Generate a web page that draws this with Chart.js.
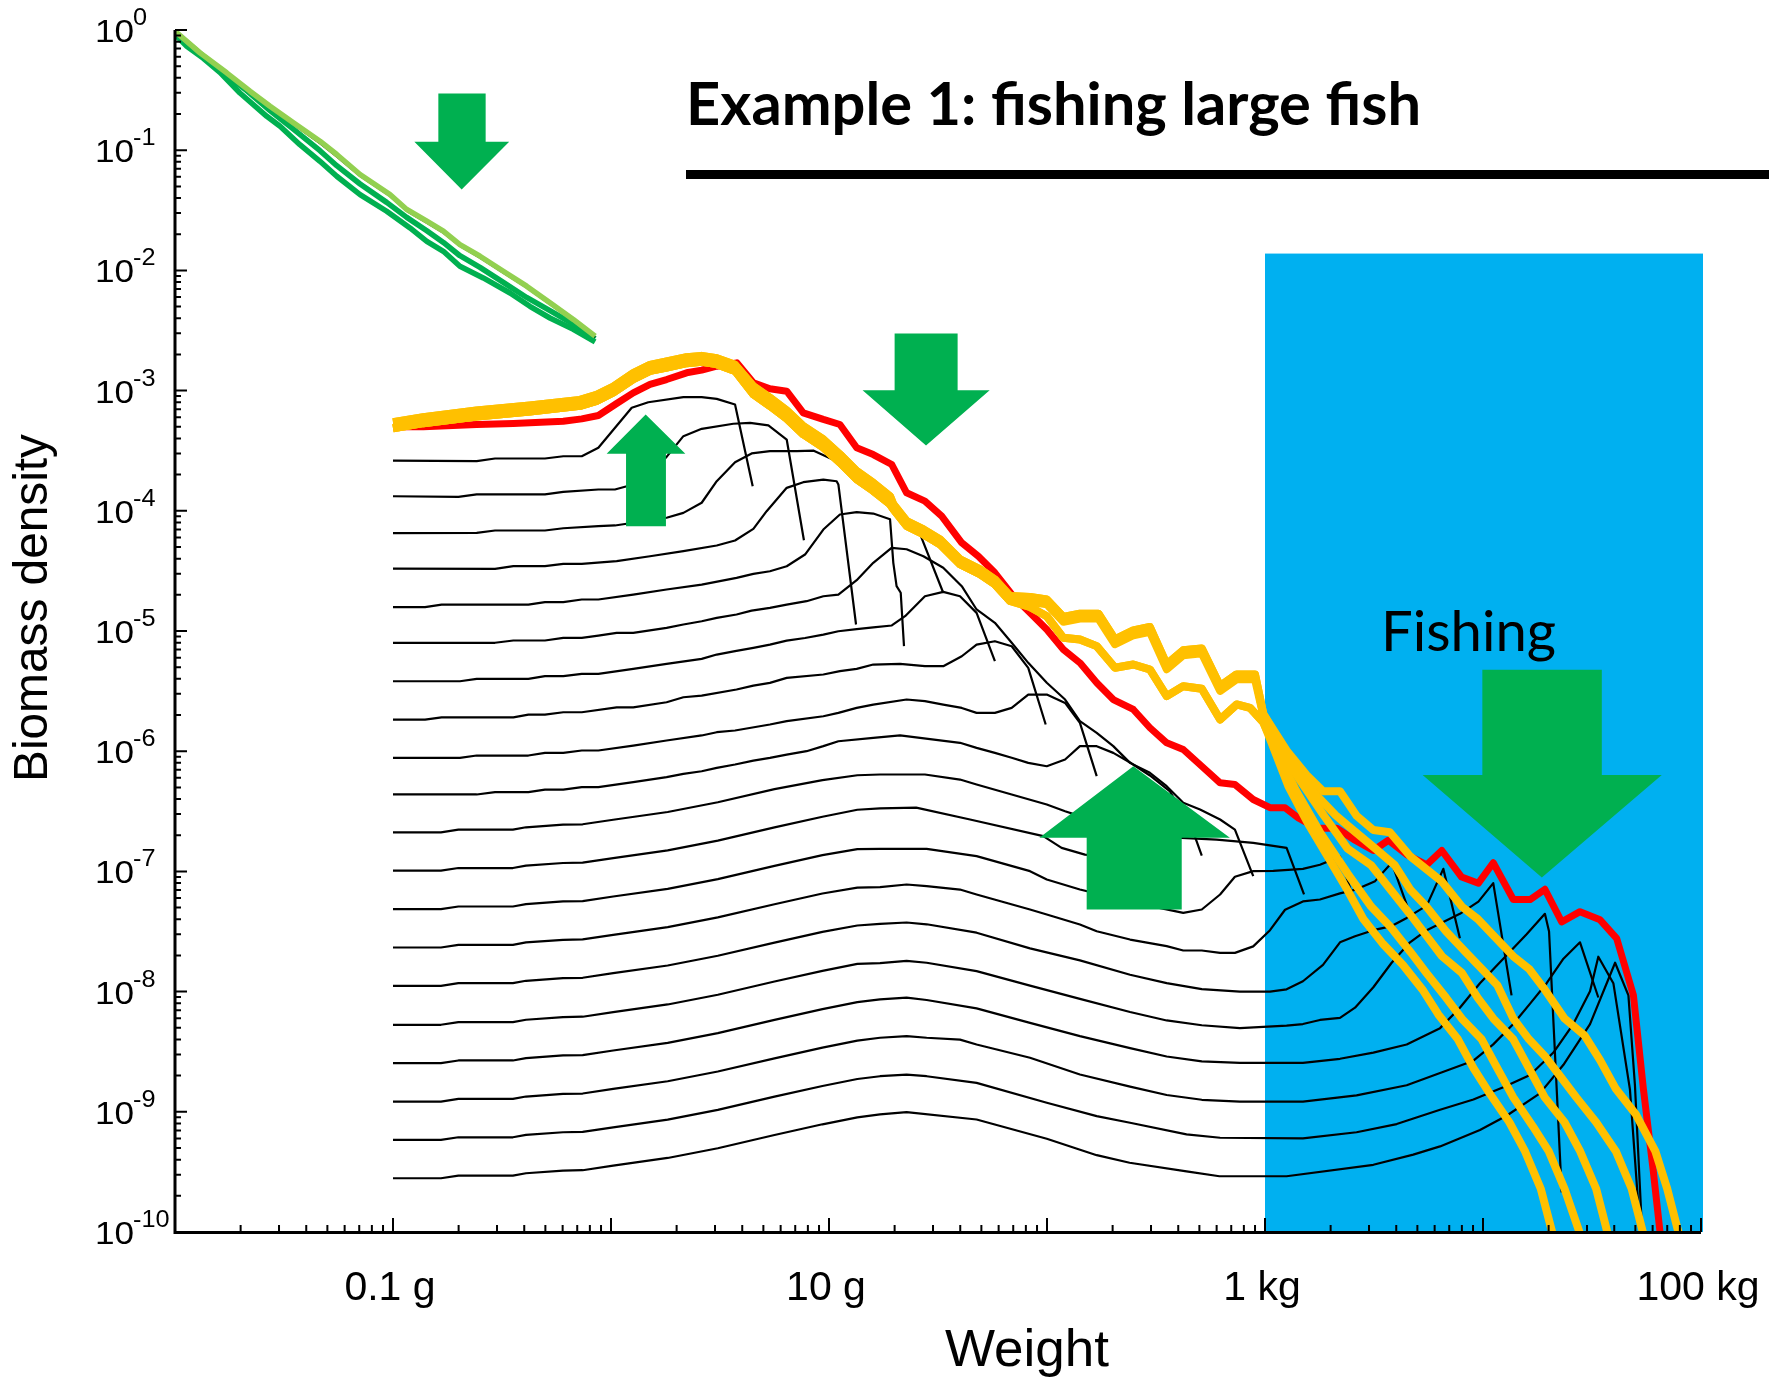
<!DOCTYPE html>
<html>
<head>
<meta charset="utf-8">
<title>Example 1: fishing large fish</title>
<script src="https://cdn.jsdelivr.net/npm/chart.js@4.4.0/dist/chart.umd.min.js"></script>
<style>
  html, body { margin: 0; padding: 0; background: #fff; }
  canvas { display: block; }
</style>
</head>
<body>
<canvas id="chart" width="1769" height="1378"></canvas>
<script>
// Every point is [log10 weight (g), log10 biomass density].

// --- species spectra (black), top to bottom ---
const sp01 = [[-1,-3.582],[-0.616,-3.587],[-0.532,-3.565],[-0.303,-3.565],[-0.219,-3.546],[-0.134,-3.546],[-0.058,-3.476],[0.095,-3.143],[0.171,-3.097],[0.332,-3.055],[0.416,-3.055],[0.485,-3.069],[0.569,-3.116],[0.650,-3.795]];
const sp02 = [[-1,-3.879],[-0.700,-3.884],[-0.616,-3.864],[-0.303,-3.864],[-0.219,-3.842],[-0.058,-3.823],[0.018,-3.823],[0.102,-3.781],[0.18,-3.68],[0.255,-3.551],[0.332,-3.379],[0.416,-3.318],[0.561,-3.276],[0.638,-3.268],[0.722,-3.290],[0.806,-3.407],[0.885,-4.245]];
const sp03 = [[-1,-4.185],[-0.616,-4.183],[-0.532,-4.164],[-0.303,-4.164],[-0.219,-4.145],[-0.058,-4.128],[0.018,-4.122],[0.255,-4.058],[0.332,-4.017],[0.416,-3.933],[0.485,-3.754],[0.569,-3.596],[0.645,-3.523],[0.729,-3.504],[0.852,-3.504],[0.93,-3.50],[1.05,-3.60],[1.127,-3.74],[1.203,-3.84],[1.28,-3.95],[1.356,-4.12],[1.417,-4.19],[1.524,-4.682]];
const sp04 = [[-1,-4.481],[-0.532,-4.483],[-0.448,-4.461],[-0.303,-4.461],[-0.219,-4.441],[-0.134,-4.441],[0.026,-4.419],[0.179,-4.378],[0.332,-4.336],[0.485,-4.289],[0.569,-4.247],[0.653,-4.150],[0.714,-4.003],[0.806,-3.809],[0.882,-3.762],[0.974,-3.740],[1.035,-3.754],[1.043,-3.781],[1.124,-4.946]];
const sp05 = [[-1,-4.802],[-0.853,-4.802],[-0.777,-4.780],[-0.379,-4.780],[-0.303,-4.760],[-0.219,-4.760],[-0.134,-4.738],[-0.058,-4.738],[0.102,-4.697],[0.255,-4.655],[0.416,-4.614],[0.576,-4.558],[0.653,-4.525],[0.729,-4.503],[0.806,-4.461],[0.890,-4.364],[0.974,-4.156],[1.050,-4.031],[1.127,-4.011],[1.203,-4.023],[1.280,-4.070],[1.295,-4.433],[1.310,-4.627],[1.329,-4.682],[1.344,-5.126]];
const sp06 = [[-1,-5.098],[-0.532,-5.098],[-0.448,-5.079],[-0.303,-5.079],[-0.219,-5.057],[-0.134,-5.057],[-0.058,-5.038],[0.026,-5.016],[0.102,-5.016],[0.255,-4.974],[0.332,-4.946],[0.416,-4.919],[0.485,-4.891],[0.576,-4.863],[0.645,-4.830],[0.729,-4.808],[0.806,-4.780],[0.897,-4.752],[0.974,-4.711],[1.043,-4.697],[1.127,-4.577],[1.203,-4.433],[1.287,-4.308],[1.356,-4.32],[1.433,-4.378],[1.524,-4.474],[1.609,-4.627],[1.677,-4.821],[1.761,-4.932],[1.838,-5.098],[1.914,-5.265],[1.999,-5.431],[2.083,-5.570],[2.151,-5.750],[2.228,-5.847],[2.304,-5.958],[2.381,-6.097],[2.472,-6.180],[2.549,-6.291],[2.625,-6.429],[2.702,-6.485],[2.794,-6.568],[2.862,-6.652],[2.946,-7.040]];
const sp07 = [[-1,-5.418],[-0.693,-5.418],[-0.616,-5.398],[-0.379,-5.398],[-0.303,-5.376],[-0.219,-5.376],[-0.134,-5.357],[-0.058,-5.357],[0.102,-5.315],[0.255,-5.274],[0.416,-5.232],[0.485,-5.196],[0.569,-5.168],[0.653,-5.140],[0.729,-5.113],[0.806,-5.080],[0.890,-5.058],[0.974,-5.030],[1.043,-5.002],[1.127,-4.985],[1.203,-4.970],[1.288,-4.954],[1.349,-4.877],[1.440,-4.711],[1.524,-4.675],[1.601,-4.711],[1.677,-4.849],[1.761,-5.251]];
const sp08 = [[-1,-5.737],[-0.853,-5.737],[-0.777,-5.718],[-0.448,-5.718],[-0.379,-5.696],[-0.303,-5.696],[-0.219,-5.676],[-0.134,-5.676],[0.026,-5.635],[0.102,-5.635],[0.255,-5.593],[0.332,-5.551],[0.416,-5.537],[0.576,-5.487],[0.653,-5.454],[0.729,-5.432],[0.806,-5.390],[0.974,-5.362],[1.050,-5.334],[1.127,-5.315],[1.203,-5.279],[1.326,-5.273],[1.440,-5.293],[1.524,-5.293],[1.609,-5.210],[1.677,-5.113],[1.761,-5.085],[1.838,-5.127],[1.914,-5.307],[1.994,-5.778]];
const sp09 = [[-1,-6.055],[-0.693,-6.055],[-0.616,-6.036],[-0.379,-6.036],[-0.303,-6.014],[-0.219,-6.014],[-0.134,-5.994],[-0.058,-5.994],[0.102,-5.953],[0.255,-5.911],[0.416,-5.869],[0.485,-5.842],[0.569,-5.828],[0.729,-5.778],[0.806,-5.750],[0.974,-5.709],[1.043,-5.681],[1.127,-5.640],[1.203,-5.612],[1.356,-5.570],[1.440,-5.584],[1.524,-5.612],[1.609,-5.640],[1.677,-5.681],[1.761,-5.681],[1.838,-5.640],[1.914,-5.529],[1.999,-5.529],[2.083,-5.598],[2.151,-5.764],[2.228,-6.208]];
const sp10 = [[-1,-6.360],[-0.616,-6.360],[-0.532,-6.341],[-0.379,-6.341],[-0.303,-6.319],[-0.219,-6.319],[-0.134,-6.299],[-0.058,-6.299],[0.102,-6.258],[0.255,-6.216],[0.332,-6.189],[0.416,-6.167],[0.485,-6.139],[0.569,-6.111],[0.653,-6.078],[0.729,-6.055],[0.806,-6.028],[0.897,-6.000],[0.974,-5.958],[1.043,-5.917],[1.203,-5.889],[1.326,-5.869],[1.601,-5.930],[1.677,-5.972],[1.761,-6.014],[1.838,-6.055],[1.914,-6.097],[1.999,-6.125],[2.083,-6.069],[2.151,-5.958],[2.228,-5.958],[2.304,-6.014],[2.381,-6.094],[2.472,-6.202],[2.564,-6.335],[2.665,-6.643],[2.710,-6.868]];
const sp11 = [[-1,-6.675],[-0.78,-6.675],[-0.70,-6.653],[-0.45,-6.653],[-0.39,-6.633],[-0.22,-6.611],[-0.13,-6.608],[0.01,-6.570],[0.26,-6.506],[0.49,-6.425],[0.75,-6.315],[0.97,-6.240],[1.13,-6.200],[1.234,-6.194],[1.440,-6.194],[1.601,-6.236],[1.677,-6.277],[1.838,-6.360],[1.999,-6.443],[2.083,-6.499],[2.151,-6.540],[2.30,-6.62],[2.42,-6.68],[2.47,-7.10]];
const sp12 = [[-1,-6.994],[-0.78,-6.994],[-0.70,-6.972],[-0.45,-6.972],[-0.39,-6.952],[-0.22,-6.930],[-0.13,-6.927],[0.01,-6.889],[0.26,-6.825],[0.49,-6.744],[0.75,-6.634],[0.97,-6.545],[1.13,-6.487],[1.234,-6.475],[1.40,-6.47],[1.647,-6.568],[1.983,-6.707],[2.067,-6.804],[2.174,-6.860],[2.40,-6.90],[2.617,-6.721],[2.778,-6.735],[2.946,-6.763],[3.099,-6.804],[3.179,-7.192]];
const sp13 = [[-1,-7.314],[-0.78,-7.314],[-0.70,-7.292],[-0.45,-7.292],[-0.39,-7.272],[-0.22,-7.250],[-0.13,-7.247],[0.01,-7.209],[0.26,-7.145],[0.49,-7.064],[0.75,-6.954],[0.97,-6.865],[1.13,-6.815],[1.234,-6.812],[1.448,-6.812],[1.677,-6.873],[1.922,-6.998],[1.999,-7.067],[2.151,-7.151],[2.40,-7.26],[2.625,-7.345],[2.710,-7.317],[2.794,-7.192],[2.862,-7.045],[2.946,-6.998],[3.038,-6.996],[3.174,-6.979],[3.252,-6.945],[3.344,-6.877],[3.413,-7.268]];
const sp14 = [[-1,-7.633],[-0.78,-7.633],[-0.70,-7.611],[-0.45,-7.611],[-0.39,-7.591],[-0.22,-7.569],[-0.13,-7.566],[0.01,-7.528],[0.26,-7.464],[0.49,-7.383],[0.75,-7.273],[0.97,-7.184],[1.13,-7.135],[1.234,-7.131],[1.356,-7.109],[1.448,-7.123],[1.601,-7.151],[1.677,-7.192],[1.922,-7.317],[1.999,-7.359],[2.151,-7.442],[2.228,-7.498],[2.381,-7.567],[2.549,-7.622],[2.625,-7.658],[2.710,-7.658],[2.794,-7.678],[2.862,-7.678],[2.946,-7.624],[3.023,-7.489],[3.092,-7.319],[3.174,-7.250],[3.252,-7.234],[3.344,-7.183],[3.420,-7.149],[3.505,-7.081],[3.581,-6.928],[3.665,-7.353]];
const sp15 = [[-1,-7.952],[-0.78,-7.952],[-0.70,-7.930],[-0.45,-7.930],[-0.39,-7.910],[-0.22,-7.888],[-0.13,-7.885],[0.01,-7.847],[0.26,-7.783],[0.49,-7.702],[0.75,-7.592],[0.97,-7.503],[1.13,-7.450],[1.234,-7.436],[1.356,-7.425],[1.448,-7.44],[1.677,-7.51],[1.922,-7.64],[2.151,-7.74],[2.381,-7.86],[2.549,-7.93],[2.710,-7.98],[2.885,-8.000],[3.023,-8.000],[3.099,-7.981],[3.174,-7.914],[3.266,-7.778],[3.344,-7.590],[3.413,-7.540],[3.497,-7.489],[3.581,-7.455],[3.650,-7.387],[3.742,-7.285],[3.818,-6.979],[3.894,-7.556]];
const sp16 = [[-1,-8.276],[-0.78,-8.276],[-0.70,-8.254],[-0.45,-8.254],[-0.39,-8.234],[-0.22,-8.212],[-0.13,-8.209],[0.01,-8.171],[0.26,-8.107],[0.49,-8.026],[0.75,-7.916],[0.97,-7.827],[1.13,-7.770],[1.234,-7.763],[1.356,-7.745],[1.448,-7.76],[1.677,-7.83],[1.922,-7.95],[2.151,-8.06],[2.381,-8.17],[2.549,-8.24],[2.710,-8.28],[2.885,-8.304],[3.099,-8.283],[3.174,-8.270],[3.252,-8.236],[3.344,-8.219],[3.413,-8.134],[3.497,-7.964],[3.581,-7.760],[3.665,-7.590],[3.742,-7.489],[3.818,-7.421],[3.894,-7.353],[3.979,-7.251],[4.047,-7.098],[4.131,-8.032]];
const sp17 = [[-1,-8.595],[-0.78,-8.595],[-0.70,-8.573],[-0.45,-8.573],[-0.39,-8.553],[-0.22,-8.531],[-0.13,-8.528],[0.01,-8.490],[0.26,-8.426],[0.49,-8.345],[0.75,-8.235],[0.97,-8.146],[1.13,-8.088],[1.234,-8.065],[1.356,-8.05],[1.448,-8.07],[1.677,-8.14],[1.922,-8.26],[2.151,-8.37],[2.381,-8.47],[2.549,-8.54],[2.710,-8.58],[2.885,-8.593],[3.174,-8.593],[3.344,-8.559],[3.497,-8.508],[3.650,-8.440],[3.803,-8.304],[3.894,-8.134],[3.986,-7.930],[4.093,-7.726],[4.200,-7.522],[4.284,-7.353],[4.303,-7.50],[4.361,-9.67]];
const sp18 = [[-1,-8.915],[-0.78,-8.915],[-0.70,-8.893],[-0.45,-8.893],[-0.39,-8.873],[-0.22,-8.851],[-0.13,-8.848],[0.01,-8.810],[0.26,-8.746],[0.49,-8.665],[0.75,-8.555],[0.97,-8.466],[1.13,-8.408],[1.234,-8.384],[1.356,-8.37],[1.448,-8.384],[1.601,-8.40],[1.677,-8.44],[1.922,-8.55],[2.151,-8.69],[2.381,-8.79],[2.549,-8.86],[2.710,-8.90],[2.885,-8.915],[3.174,-8.915],[3.420,-8.864],[3.650,-8.779],[3.803,-8.677],[3.956,-8.575],[4.047,-8.439],[4.139,-8.270],[4.216,-8.100],[4.292,-7.930],[4.369,-7.726],[4.445,-7.590],[4.529,-8.049]];
const sp19 = [[-1,-9.234],[-0.78,-9.234],[-0.70,-9.212],[-0.45,-9.212],[-0.39,-9.192],[-0.22,-9.170],[-0.13,-9.167],[0.01,-9.129],[0.26,-9.065],[0.49,-8.984],[0.75,-8.874],[0.97,-8.785],[1.13,-8.727],[1.234,-8.704],[1.356,-8.690],[1.448,-8.704],[1.677,-8.759],[1.999,-8.925],[2.228,-9.036],[2.381,-9.091],[2.640,-9.188],[2.794,-9.216],[3.174,-9.221],[3.420,-9.170],[3.604,-9.102],[3.803,-8.983],[3.956,-8.898],[4.093,-8.796],[4.216,-8.694],[4.323,-8.507],[4.414,-8.270],[4.491,-7.998],[4.529,-7.710],[4.598,-7.930],[4.674,-8.813],[4.720,-9.968]];
const sp20 = [[-1,-9.553],[-0.78,-9.553],[-0.70,-9.531],[-0.45,-9.531],[-0.39,-9.511],[-0.22,-9.489],[-0.13,-9.486],[0.01,-9.448],[0.26,-9.384],[0.49,-9.303],[0.75,-9.193],[0.97,-9.104],[1.13,-9.046],[1.234,-9.022],[1.356,-9.003],[1.677,-9.064],[1.999,-9.224],[2.228,-9.361],[2.379,-9.424],[2.640,-9.496],[2.791,-9.536],[3.099,-9.536],[3.497,-9.441],[3.680,-9.356],[3.803,-9.288],[3.986,-9.152],[4.108,-9.033],[4.261,-8.847],[4.369,-8.609],[4.491,-8.270],[4.606,-7.760],[4.667,-8.032],[4.697,-8.779],[4.728,-9.934]];
const speciesSpectra = [sp01, sp02, sp03, sp04, sp05, sp06, sp07, sp08, sp09, sp10,
                        sp11, sp12, sp13, sp14, sp15, sp16, sp17, sp18, sp19, sp20];

// --- community spectrum without fishing (red) ---
const communityUnfished = [[-1,-3.301],[-0.861,-3.301],[-0.616,-3.282],[-0.448,-3.274],[-0.219,-3.255],[-0.134,-3.235],[-0.058,-3.207],[0.026,-3.107],[0.102,-3.019],[0.179,-2.949],[0.255,-2.908],[0.347,-2.852],[0.416,-2.830],[0.485,-2.797],[0.577,-2.769],[0.653,-2.935],[0.729,-2.985],[0.806,-3.005],[0.882,-3.185],[0.974,-3.240],[1.050,-3.282],[1.127,-3.476],[1.203,-3.532],[1.288,-3.615],[1.356,-3.850],[1.440,-3.920],[1.517,-4.045],[1.609,-4.266],[1.685,-4.378],[1.761,-4.516],[1.845,-4.711],[1.922,-4.849],[1.999,-4.988],[2.075,-5.154],[2.151,-5.265],[2.228,-5.431],[2.304,-5.570],[2.396,-5.653],[2.472,-5.805],[2.549,-5.930],[2.625,-5.986],[2.710,-6.125],[2.794,-6.263],[2.862,-6.277],[2.946,-6.402],[3.023,-6.470],[3.092,-6.470],[3.153,-6.555],[3.237,-6.640],[3.329,-6.640],[3.413,-6.741],[3.497,-6.826],[3.566,-6.741],[3.650,-6.860],[3.742,-6.945],[3.811,-6.826],[3.902,-7.047],[3.979,-7.098],[4.047,-6.928],[4.139,-7.234],[4.216,-7.234],[4.284,-7.149],[4.361,-7.420],[4.445,-7.335],[4.537,-7.403],[4.613,-7.557],[4.690,-8.031],[4.736,-8.813],[4.781,-9.492],[4.812,-10.0]];

// --- community spectra with fishing (orange): shared paths up to ~1 kg, then five tails ---
const fishedUpper = [[-1,-3.263],[-0.861,-3.221],[-0.616,-3.165],[-0.372,-3.124],[-0.142,-3.077],[-0.066,-3.035],[0.011,-2.966],[0.102,-2.855],[0.179,-2.786],[0.255,-2.758],[0.347,-2.722],[0.416,-2.711],[0.485,-2.730],[0.569,-2.786],[0.653,-2.965],[0.729,-3.060],[0.806,-3.165],[0.882,-3.296],[0.974,-3.406],[1.050,-3.531],[1.127,-3.670],[1.203,-3.767],[1.280,-3.880],[1.295,-3.945],[1.356,-4.085],[1.433,-4.155],[1.509,-4.238],[1.601,-4.404],[1.693,-4.487],[1.761,-4.571],[1.830,-4.709],[1.922,-4.717],[1.999,-4.737],[2.075,-4.883],[2.151,-4.856],[2.236,-4.856],[2.312,-5.070],[2.396,-4.995],[2.472,-4.967],[2.549,-5.278],[2.625,-5.161],[2.710,-5.145],[2.794,-5.458],[2.870,-5.361],[2.954,-5.361],[2.992,-5.689]];
const fishedMid = [[-1,-3.313],[-0.861,-3.271],[-0.616,-3.215],[-0.372,-3.174],[-0.142,-3.127],[-0.066,-3.085],[0.011,-3.016],[0.102,-2.905],[0.179,-2.836],[0.255,-2.808],[0.347,-2.772],[0.416,-2.761],[0.485,-2.780],[0.569,-2.836],[0.653,-3.030],[0.729,-3.127],[0.806,-3.232],[0.882,-3.363],[0.974,-3.473],[1.050,-3.598],[1.127,-3.737],[1.203,-3.834],[1.280,-3.945],[1.295,-3.985],[1.356,-4.125],[1.433,-4.195],[1.509,-4.278],[1.601,-4.444],[1.693,-4.527],[1.761,-4.611],[1.830,-4.749],[1.922,-4.757],[1.999,-4.777],[2.075,-4.923],[2.151,-4.896],[2.236,-4.896],[2.312,-5.110],[2.396,-5.035],[2.472,-5.007],[2.549,-5.318],[2.625,-5.201],[2.710,-5.185],[2.794,-5.498],[2.870,-5.401],[2.954,-5.401],[2.992,-5.70]];
const fishedLower = [[-1,-3.313],[-0.861,-3.271],[-0.616,-3.215],[-0.372,-3.174],[-0.142,-3.127],[-0.066,-3.085],[0.011,-3.016],[0.102,-2.905],[0.179,-2.836],[0.255,-2.808],[0.347,-2.772],[0.416,-2.761],[0.485,-2.780],[0.569,-2.836],[0.653,-3.030],[0.729,-3.127],[0.806,-3.232],[0.882,-3.363],[0.974,-3.473],[1.050,-3.598],[1.127,-3.737],[1.203,-3.834],[1.280,-3.945],[1.295,-3.985],[1.356,-4.125],[1.433,-4.195],[1.509,-4.278],[1.601,-4.444],[1.693,-4.527],[1.761,-4.611],[1.830,-4.749],[1.922,-4.80],[1.999,-4.877],[2.075,-5.057],[2.151,-5.071],[2.228,-5.126],[2.312,-5.306],[2.396,-5.279],[2.472,-5.320],[2.549,-5.542],[2.625,-5.459],[2.710,-5.481],[2.794,-5.736],[2.870,-5.611],[2.931,-5.639],[2.992,-5.76]];
const fishedTail1 = [[3.030,-5.93],[3.107,-6.291],[3.197,-6.601],[3.288,-6.878],[3.378,-7.155],[3.451,-7.396],[3.541,-7.603],[3.632,-7.776],[3.722,-7.982],[3.795,-8.190],[3.885,-8.397],[3.957,-8.639],[4.030,-8.846],[4.121,-9.087],[4.193,-9.330],[4.265,-9.640],[4.320,-10.02]];
const fishedTail2 = [[3.040,-5.946],[3.142,-6.326],[3.251,-6.671],[3.378,-7.016],[3.487,-7.293],[3.577,-7.465],[3.668,-7.672],[3.740,-7.844],[3.831,-8.052],[3.903,-8.225],[3.994,-8.397],[4.066,-8.639],[4.139,-8.880],[4.229,-9.122],[4.302,-9.330],[4.374,-9.640],[4.446,-10.02]];
const fishedTail3 = [[3.052,-5.946],[3.179,-6.291],[3.269,-6.533],[3.378,-6.809],[3.487,-6.948],[3.577,-7.155],[3.668,-7.362],[3.740,-7.534],[3.812,-7.706],[3.903,-7.844],[3.976,-8.052],[4.048,-8.225],[4.139,-8.397],[4.211,-8.639],[4.283,-8.880],[4.374,-9.087],[4.446,-9.330],[4.519,-9.640],[4.573,-10.02]];
const fishedTail4 = [[3.070,-5.928],[3.142,-6.119],[3.233,-6.360],[3.324,-6.533],[3.414,-6.671],[3.505,-6.809],[3.595,-6.948],[3.668,-7.155],[3.740,-7.292],[3.831,-7.500],[3.921,-7.672],[3.994,-7.810],[4.066,-7.948],[4.139,-8.224],[4.211,-8.397],[4.283,-8.535],[4.356,-8.708],[4.428,-8.880],[4.519,-9.087],[4.610,-9.330],[4.682,-9.640],[4.736,-10.02]];
const fishedTail5 = [[3.099,-5.994],[3.191,-6.198],[3.267,-6.334],[3.344,-6.334],[3.420,-6.537],[3.497,-6.656],[3.573,-6.674],[3.668,-6.878],[3.740,-6.982],[3.812,-7.086],[3.903,-7.293],[3.976,-7.396],[4.048,-7.534],[4.139,-7.706],[4.211,-7.810],[4.283,-7.982],[4.374,-8.224],[4.465,-8.363],[4.537,-8.570],[4.610,-8.811],[4.700,-9.018],[4.791,-9.330],[4.845,-9.640],[4.899,-10.02]];

// --- resource spectra (green), plus the unperturbed one in black ---
const resourceLight = [[-2.0,-0.01],[-1.885,-0.190],[-1.763,-0.356],[-1.656,-0.509],[-1.564,-0.634],[-1.457,-0.772],[-1.335,-0.925],[-1.258,-1.036],[-1.151,-1.202],[-1.014,-1.369],[-0.937,-1.493],[-0.845,-1.591],[-0.769,-1.674],[-0.693,-1.785],[-0.601,-1.882],[-0.494,-2.007],[-0.387,-2.131],[-0.280,-2.270],[-0.173,-2.408],[-0.073,-2.547]];
const resourceMid = [[-2.0,-0.02],[-1.885,-0.195],[-1.763,-0.375],[-1.671,-0.505],[-1.564,-0.671],[-1.457,-0.824],[-1.335,-1.004],[-1.258,-1.129],[-1.151,-1.281],[-1.029,-1.434],[-0.937,-1.559],[-0.845,-1.670],[-0.769,-1.767],[-0.693,-1.878],[-0.601,-1.975],[-0.494,-2.100],[-0.387,-2.225],[-0.280,-2.335],[-0.173,-2.446],[-0.073,-2.569]];
const resourceLow = [[-2.0,-0.037],[-1.946,-0.135],[-1.870,-0.236],[-1.794,-0.353],[-1.702,-0.524],[-1.579,-0.718],[-1.518,-0.801],[-1.427,-0.954],[-1.335,-1.092],[-1.258,-1.217],[-1.151,-1.370],[-1.029,-1.508],[-0.922,-1.647],[-0.845,-1.758],[-0.769,-1.841],[-0.693,-1.966],[-0.586,-2.063],[-0.463,-2.188],[-0.372,-2.299],[-0.280,-2.396],[-0.173,-2.490],[-0.073,-2.595]];
const resourceBase = [[-2.0,-0.015],[-1.885,-0.195],[-1.763,-0.365],[-1.656,-0.52],[-1.564,-0.648],[-1.457,-0.787],[-1.335,-0.945],[-1.258,-1.055],[-1.151,-1.218],[-1.014,-1.385],[-0.937,-1.508],[-0.845,-1.607],[-0.769,-1.690],[-0.693,-1.80],[-0.601,-1.898],[-0.494,-2.022],[-0.387,-2.146],[-0.280,-2.285],[-0.173,-2.42],[-0.073,-2.555]];

// --- annotations, same log10 units ---
const fishingRange = { w: [3, 5], b: [-10, -1.86] };
const arrows = [
  { shaft: [-0.792, -0.575], head: [-0.902, -0.467], tip: [-0.685, -1.327], tail: -0.528, neck: -0.930 },
  { shaft: [0.069, 0.252],   head: [-0.020, 0.341],  tip: [0.159, -3.199],  tail: -4.128, neck: -3.526 },
  { shaft: [1.301, 1.590],   head: [1.154, 1.737],   tip: [1.445, -3.457],  tail: -2.525, neck: -2.997 },
  { shaft: [2.182, 2.618],   head: [1.965, 2.839],   tip: [2.396, -6.125],  tail: -7.317, neck: -6.720 },
  { shaft: [3.997, 4.545],   head: [3.723, 4.820],   tip: [4.270, -7.051],  tail: -5.322, neck: -6.198 },
];
const xTickLabels = [[-1, '0.1 g'], [1, '10 g'], [3, '1 kg'], [5, '100 kg']];

const ORANGE = '#FFC000';
const RED    = '#FF0000';
const GREEN  = '#00B050';
const LIME   = '#92D050';
const BLUE   = '#00B0F0';

const toPoints = pts => pts.map(([w, b]) => ({ x: 10 ** w, y: 10 ** b }));

function line(pts, color, width, order) {
  return {
    data: toPoints(pts),
    borderColor: color,
    borderWidth: width,
    borderJoinStyle: 'round',
    pointRadius: 0,
    fill: false,
    tension: 0,
    order,
  };
}

const datasets = [
  ...speciesSpectra.map(s => line(s, '#000', 2.2, 5)),
  line(communityUnfished, RED, 7, 3),
  line(fishedLower.concat(fishedTail1), ORANGE, 8, 2),
  line(fishedLower.concat(fishedTail2), ORANGE, 8, 2),
  line(fishedMid.concat(fishedTail3), ORANGE, 8, 2),
  line(fishedUpper.concat(fishedTail4), ORANGE, 8, 2),
  line(fishedUpper.concat(fishedTail5), ORANGE, 8, 2),
  line(resourceLow, GREEN, 5.5, 2),
  line(resourceMid, GREEN, 5.5, 2),
  line(resourceBase, '#000', 1.5, 1),
  line(resourceLight, LIME, 5.5, 0),
];

const X = (c, e) => c.scales.x.getPixelForValue(10 ** e);
const Y = (c, e) => c.scales.y.getPixelForValue(10 ** e);

const fishingBox = {
  id: 'fishingBox',
  beforeDatasetsDraw(c) {
    const ctx = c.ctx;
    const x0 = X(c, fishingRange.w[0]), x1 = X(c, fishingRange.w[1]);
    const y0 = Y(c, fishingRange.b[1]), y1 = Y(c, fishingRange.b[0]);
    ctx.save();
    ctx.fillStyle = BLUE;
    ctx.fillRect(x0, y0, x1 - x0 + 2, y1 - y0);
    ctx.restore();
  },
};

const arrowMarks = {
  id: 'arrowMarks',
  afterDatasetsDraw(c) {
    const ctx = c.ctx;
    ctx.save();
    ctx.fillStyle = GREEN;
    arrows.forEach(a => {
      const sl = X(c, a.shaft[0]), sr = X(c, a.shaft[1]);
      const hl = X(c, a.head[0]),  hr = X(c, a.head[1]);
      const tx = X(c, a.tip[0]),   ty = Y(c, a.tip[1]);
      const yt = Y(c, a.tail),     yn = Y(c, a.neck);
      ctx.beginPath();
      ctx.moveTo(sl, yt);
      ctx.lineTo(sr, yt);
      ctx.lineTo(sr, yn);
      ctx.lineTo(hr, yn);
      ctx.lineTo(tx, ty);
      ctx.lineTo(hl, yn);
      ctx.lineTo(sl, yn);
      ctx.closePath();
      ctx.fill();
    });
    ctx.restore();
  },
};

// draws text squeezed or stretched horizontally to a given width
function fitText(ctx, text, x, y, font, width, align) {
  ctx.save();
  ctx.font = font;
  const sx = width / ctx.measureText(text).width;
  ctx.translate(x, y);
  ctx.scale(sx, 1);
  ctx.textAlign = align;
  ctx.fillText(text, 0, 0);
  ctx.restore();
}

const axesAndText = {
  id: 'axesAndText',
  afterDraw(c) {
    const ctx = c.ctx;
    const { left, right, top, bottom } = c.chartArea;
    ctx.save();
    ctx.strokeStyle = '#000';
    ctx.fillStyle = '#000';

    // tick marks point into the plot
    ctx.lineWidth = 2;
    ctx.beginPath();
    for (let k = -2; k <= 5; k++) {
      for (let m = 1; m <= 9; m++) {
        if (k === 5 && m > 1) break;
        if (k === -2 && m === 1) continue;
        const x = c.scales.x.getPixelForValue(m * 10 ** k);
        ctx.moveTo(x, bottom);
        ctx.lineTo(x, bottom - (m === 1 ? 14 : 7));
      }
    }
    for (let k = -10; k <= 0; k++) {
      for (let m = 1; m <= 9; m++) {
        if (k === 0 && m > 1) break;
        if (k === -10 && m === 1) continue;
        const y = c.scales.y.getPixelForValue(m * 10 ** k);
        ctx.moveTo(left, y);
        ctx.lineTo(left + (m === 1 ? 12 : 6), y);
      }
    }
    ctx.stroke();

    ctx.lineWidth = 3;
    ctx.beginPath();
    ctx.moveTo(left, top);
    ctx.lineTo(left, bottom + 0.5);
    ctx.lineTo(right, bottom + 0.5);
    ctx.stroke();

    // y tick labels: 10 with a raised exponent
    ctx.textAlign = 'left';
    ctx.textBaseline = 'alphabetic';
    for (let k = 0; k >= -10; k--) {
      const y = c.scales.y.getPixelForValue(10 ** k);
      ctx.save();
      ctx.translate(95, 0);
      ctx.scale(1.1, 1);
      ctx.font = '32px "Liberation Sans", Arial, sans-serif';
      ctx.fillText('10', 0, y + 12);
      const w = ctx.measureText('10').width;
      ctx.font = '23px "Liberation Sans", Arial, sans-serif';
      ctx.fillText(String(k), w - 1, y - 5);
      ctx.restore();
    }

    // x tick labels
    ctx.font = '41px "Liberation Sans", Arial, sans-serif';
    ctx.textAlign = 'center';
    xTickLabels.forEach(([e, label]) => {
      ctx.fillText(label, X(c, e) - 3, 1300);
    });

    // axis titles
    fitText(ctx, 'Weight', 1027, 1366, '52px "Liberation Sans", Arial, sans-serif', 164, 'center');
    ctx.save();
    ctx.translate(47, 608);
    ctx.rotate(-Math.PI / 2);
    fitText(ctx, 'Biomass density', 0, 0, '48px "Liberation Sans", Arial, sans-serif', 348, 'center');
    ctx.restore();

    // heading and rule
    fitText(ctx, 'Example 1: fishing large fish', 686, 125, 'bold 60px Lato, "Open Sans", sans-serif', 735, 'left');
    ctx.fillRect(686, 170, c.width - 686, 9);

    fitText(ctx, 'Fishing', 1381, 651, '57px Lato, "Open Sans", sans-serif', 175, 'left');
    ctx.restore();
  },
};

new Chart(document.getElementById('chart'), {
  type: 'line',
  data: { datasets },
  options: {
    responsive: false,
    devicePixelRatio: 1,
    animation: false,
    events: [],
    layout: { padding: { left: 175, right: 68, top: 30, bottom: 146 } },
    plugins: { legend: { display: false }, tooltip: { enabled: false } },
    scales: {
      x: { type: 'logarithmic', min: 0.01, max: 1e5, display: false },
      y: { type: 'logarithmic', min: 1e-10, max: 1, display: false },
    },
  },
  plugins: [fishingBox, arrowMarks, axesAndText],
});
</script>
</body>
</html>
